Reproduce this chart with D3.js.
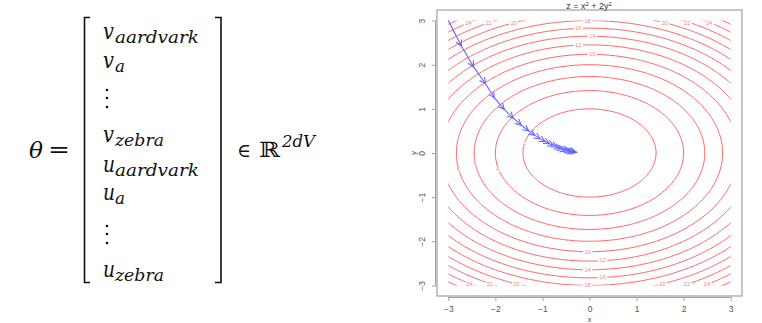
<!DOCTYPE html>
<html>
<head>
<meta charset="utf-8">
<script src="https://cdn.jsdelivr.net/npm/d3@7"></script>
<style>
  body { margin: 0; background: #fff; }
  svg { display: block; }
  .math { font-family: "DejaVu Serif", serif; font-style: italic; }
  .rm { font-family: "DejaVu Serif", serif; font-style: normal; }
  .lab { font-family: "Liberation Sans", Arial, sans-serif; }
</style>
</head>
<body>
<svg id="chart" width="762" height="323"></svg>
<script>
// contour levels of z = x^2 + 2y^2 seen in the plot
const levels = [2, 4, 6, 8, 10, 12, 14, 16, 18, 20, 22, 24, 26];

// contour labels (level, position)
const labelLevel = [18, 16, 14, 12, 10, 10, 12, 14, 16, 18, 24, 22, 20, 20, 22, 24, 24, 22, 20, 20, 22, 24, 2, 4, 6, 8];
const labelX = [-0.04, -0.24, 0.06, -0.24, 0.06, -0.04, 0.28, -0.04, 0.28, -0.04, -2.57, -2.14, -1.61, 1.59, 2.08, 2.54, -2.55, -2.12, -1.55, 1.55, 2.07, 2.5, -1.38, -1.95, -2.43, -2.79];
const labelY = [2.99, 2.82, 2.645, 2.44, 2.236, -2.25, -2.44, -2.645, -2.82, -3.0, 2.95, 2.95, 2.95, 2.95, 2.95, 2.95, -2.98, -2.98, -2.98, -2.98, -2.98, -2.98, 0.22, -0.37, -0.23, -0.37];

// descent path iterates
const pathX = [-3, -2.72, -2.46, -2.21, -2.02, -1.81, -1.62, -1.45, -1.29, -1.16, -1.05, -0.94, -0.85, -0.76, -0.69, -0.62, -0.56, -0.5, -0.45, -0.41, -0.37, -0.33, -0.3, -0.27];
const pathY = [3, 2.42, 1.95, 1.57, 1.25, 0.99, 0.79, 0.63, 0.5, 0.4, 0.32, 0.26, 0.21, 0.17, 0.13, 0.1, 0.08, 0.07, 0.05, 0.04, 0.035, 0.03, 0.02, 0.015];

const ticks = [-3, -2, -1, 0, 1, 2, 3];

// matrix entries on the left
const entryMain = ['v', 'v', null, 'v', 'u', 'u', null, 'u'];
const entrySub = ['aardvark', 'a', null, 'zebra', 'aardvark', 'a', null, 'zebra'];
const entryBase = [39, 68, 98, 142, 172, 200, 234, 277];

const svg = d3.select("#chart");
svg.append("rect").attr("width", 762).attr("height", 323).attr("fill", "#fff");

// ---------- formula ----------
const f = svg.append("g").attr("fill", "#111");

f.append("text").attr("class", "math").attr("x", 29).attr("y", 158).attr("font-size", 22)
  .attr("textLength", 14).attr("lengthAdjust", "spacingAndGlyphs").text("θ");
f.append("text").attr("class", "rm").attr("x", 48).attr("y", 157).attr("font-size", 22)
  .attr("textLength", 22).attr("lengthAdjust", "spacingAndGlyphs").text("=");

const brackets = [[90, 84.5], [215, 221]];
brackets.forEach(([tip, bar]) => {
  f.append("path")
    .attr("d", `M${tip},17.5 H${bar} V282.5 H${tip}`)
    .attr("fill", "none").attr("stroke", "#111").attr("stroke-width", 1.6);
});

entryMain.forEach((m, i) => {
  const b = entryBase[i];
  if (m === null) {
    [-8, 0, 9].forEach(dy => {
      f.append("circle").attr("cx", 107).attr("cy", b + dy).attr("r", 1.3);
    });
    return;
  }
  f.append("text").attr("class", "math").attr("x", 103).attr("y", b).attr("font-size", 22)
    .attr("textLength", m === 'v' ? 11 : 12).attr("lengthAdjust", "spacingAndGlyphs").text(m);
  const sub = entrySub[i];
  const w = sub === 'aardvark' ? 84 : sub === 'zebra' ? 49 : 10;
  f.append("text").attr("class", "math").attr("x", 115).attr("y", b + 4).attr("font-size", 16)
    .attr("textLength", w).attr("lengthAdjust", "spacingAndGlyphs").text(sub);
});

f.append("text").attr("class", "rm").attr("x", 237).attr("y", 157).attr("font-size", 19)
  .attr("textLength", 14).attr("lengthAdjust", "spacingAndGlyphs").text("∈");
f.append("text").attr("class", "rm").attr("x", 259).attr("y", 157).attr("font-size", 21)
  .attr("textLength", 21).attr("lengthAdjust", "spacingAndGlyphs").text("ℝ");
f.append("text").attr("class", "math").attr("x", 282).attr("y", 147).attr("font-size", 16)
  .attr("textLength", 33).attr("lengthAdjust", "spacingAndGlyphs").text("2dV");

// ---------- contour plot ----------
const x = d3.scaleLinear().domain([-3.24, 3.24]).range([437, 742]);
const y = d3.scaleLinear().domain([-3.24, 3.24]).range([296, 10]);

const step = 0.05, g0 = -3.3, n = 133;
const values = new Array(n * n);
for (let j = 0; j < n; j++) {
  for (let i = 0; i < n; i++) {
    const gx = g0 + i * step, gy = g0 + j * step;
    values[j * n + i] = gx * gx + 2 * gy * gy;
  }
}
const contours = d3.contours().size([n, n]).thresholds(levels).smooth(true)(values);
const proj = d3.geoTransform({
  point(px, py) {
    this.stream.point(x(g0 + (px - 0.5) * step), y(g0 + (py - 0.5) * step));
  }
});
const geo = d3.geoPath(proj);

svg.append("clipPath").attr("id", "clip")
  .append("rect").attr("x", x(-3)).attr("y", y(3)).attr("width", x(3) - x(-3)).attr("height", y(-3) - y(3));

svg.append("g").attr("clip-path", "url(#clip)")
  .selectAll("path").data(contours).join("path")
  .attr("d", geo).attr("fill", "none").attr("stroke", "#ff6464").attr("stroke-width", 1);

// contour labels
const lab = svg.append("g");
labelLevel.forEach((lv, i) => {
  const cx = x(labelX[i]), cy = y(labelY[i]);
  const w = String(lv).length * 3.6 + 2;
  lab.append("rect").attr("x", cx - w / 2).attr("y", cy - 2.2).attr("width", w).attr("height", 4.4).attr("fill", "#fff");
  lab.append("text").attr("class", "lab").attr("x", cx).attr("y", cy + 1.8).attr("text-anchor", "middle")
    .attr("font-size", 5.5).attr("fill", "#ff7a7a").text(lv);
});

// descent path with arrows
svg.append("defs").append("marker").attr("id", "arr")
  .attr("markerUnits", "userSpaceOnUse").attr("markerWidth", 12).attr("markerHeight", 12)
  .attr("refX", 0).attr("refY", 0).attr("orient", "auto").attr("viewBox", "-8 -6 12 12")
  .append("path").attr("d", "M-6,-3 L0,0 L-6,3").attr("fill", "none")
  .attr("stroke", "#6262ff").attr("stroke-width", 1);

const segs = d3.range(pathX.length - 1);
svg.append("g").selectAll("line").data(segs).join("line")
  .attr("x1", i => x(pathX[i])).attr("y1", i => y(pathY[i]))
  .attr("x2", i => x(pathX[i + 1])).attr("y2", i => y(pathY[i + 1]))
  .attr("stroke", "#6262ff").attr("stroke-width", 1.1)
  .attr("marker-end", "url(#arr)");

// box and axes
svg.append("rect").attr("x", 437).attr("y", 10).attr("width", 305).attr("height", 286)
  .attr("fill", "none").attr("stroke", "#a0a0a0").attr("stroke-width", 1.2);

const xAxis = svg.append("g").attr("transform", "translate(0,297)")
  .call(d3.axisBottom(x).tickValues(ticks).tickSize(4).tickPadding(5).tickFormat(d3.format("d")));
const yAxis = svg.append("g").attr("transform", "translate(436,0)")
  .call(d3.axisLeft(y).tickValues(ticks).tickSize(4).tickPadding(4).tickFormat(d3.format("d")));
[xAxis, yAxis].forEach(a => {
  a.select(".domain").attr("stroke", "#a0a0a0");
  a.selectAll(".tick line").attr("stroke", "#a0a0a0");
  a.selectAll("text").attr("class", "lab").attr("font-family", null).attr("font-size", 8.5).attr("fill", "#555");
});
xAxis.select(".domain").attr("d", `M${x(-3)},0.5V0.5H${x(3)}V0.5`);
yAxis.select(".domain").attr("d", `M-0.5,${y(3)}H-0.5V${y(-3)}H-0.5`);
yAxis.selectAll(".tick text")
  .attr("transform", "rotate(-90)").attr("x", 0).attr("y", -14).attr("dy", "0.35em")
  .attr("text-anchor", "middle");

svg.append("text").attr("class", "lab").attr("x", x(0)).attr("y", 322).attr("text-anchor", "middle")
  .attr("font-size", 8).attr("fill", "#555").text("x");
svg.append("text").attr("class", "lab").attr("transform", `translate(413,${y(0)}) rotate(-90)`)
  .attr("text-anchor", "middle").attr("dy", "0.35em")
  .attr("font-size", 8).attr("fill", "#555").text("y");

const title = svg.append("text").attr("class", "lab").attr("x", 589).attr("y", 8.5).attr("text-anchor", "middle")
  .attr("font-size", 9).attr("fill", "#333");
title.append("tspan").text("z = x");
title.append("tspan").attr("dy", -2.5).attr("font-size", 6).text("2");
title.append("tspan").attr("dy", 2.5).text(" + 2y");
title.append("tspan").attr("dy", -2.5).attr("font-size", 6).text("2");
</script>
</body>
</html>
